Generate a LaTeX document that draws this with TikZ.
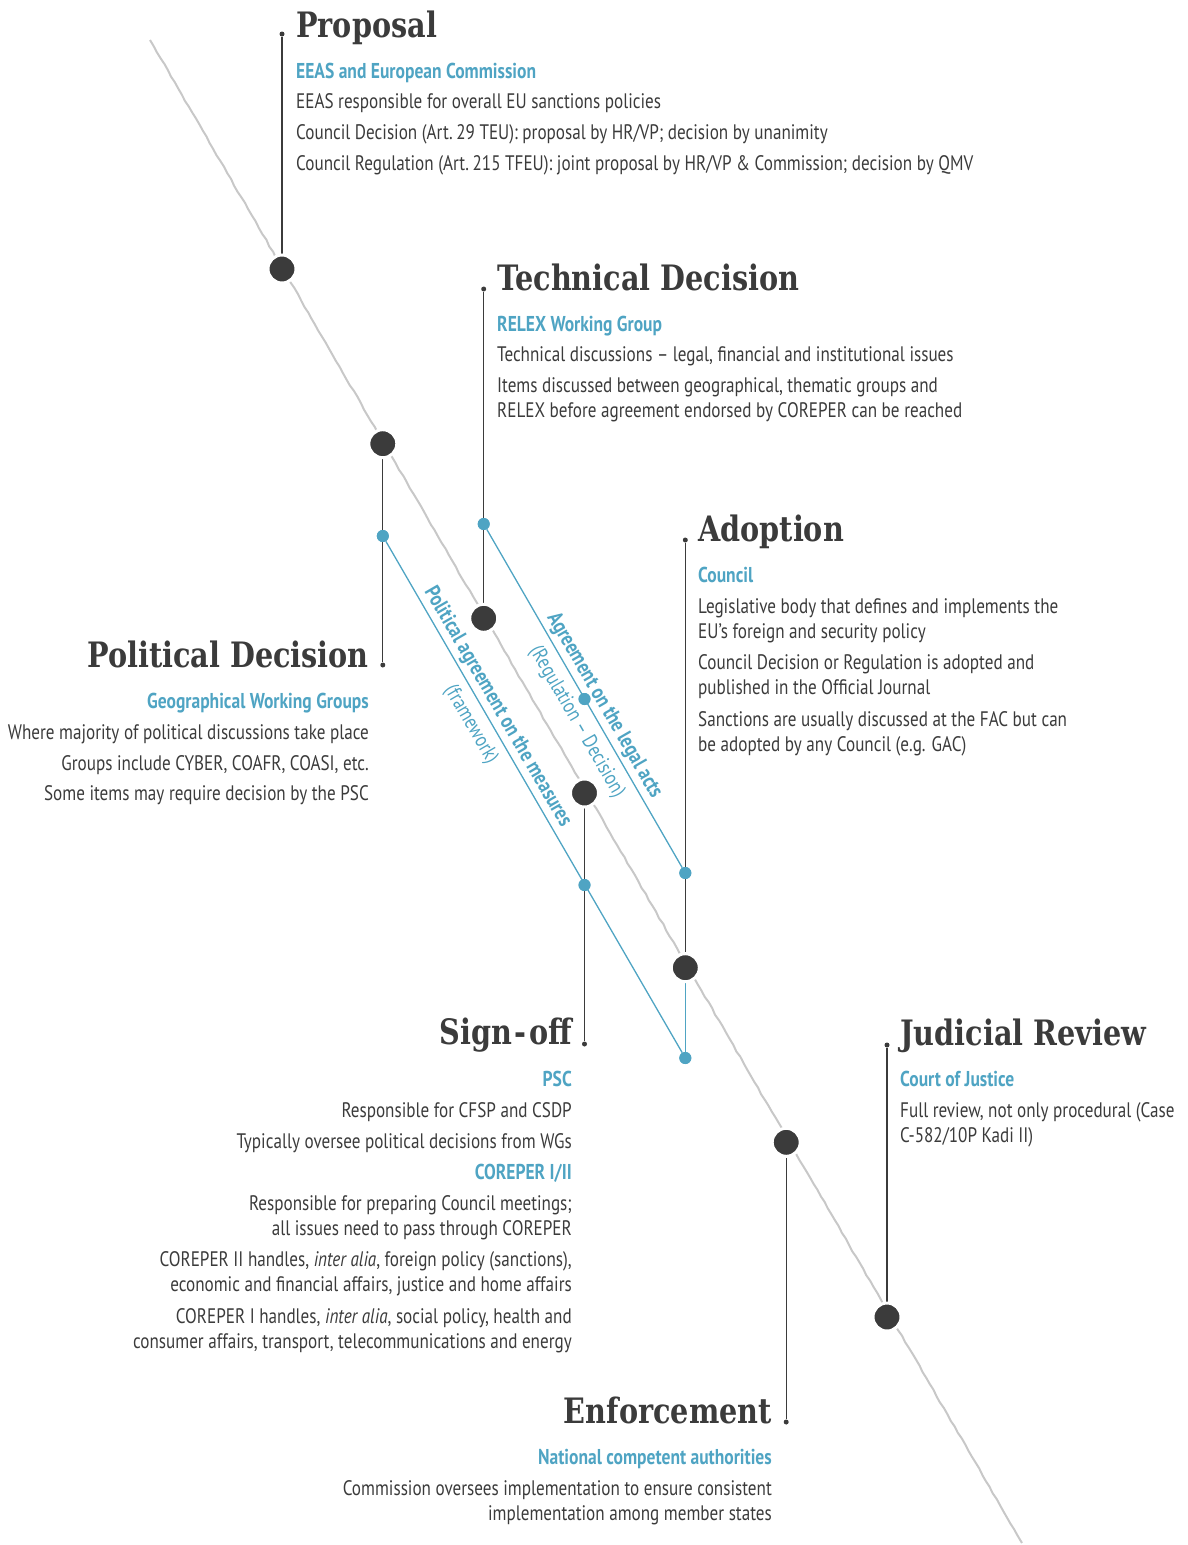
\documentclass[tikz,border=0pt]{standalone}
\usepackage{fontspec}
\setmainfont{PT Sans}[FakeStretch=0.815]
\newfontfamily\titlefont{DejaVu Serif}[FakeStretch=0.82]
\usetikzlibrary{decorations.pathmorphing}
\definecolor{ink}{HTML}{3B3B3B}
\definecolor{sky}{HTML}{4FA4C3}
\definecolor{rail}{HTML}{C8C8C8}
\tikzset{
 ttl/.style={font=\titlefont\bfseries\fontsize{35}{35}\selectfont, text=ink, inner sep=0pt},
 sub/.style={font=\bfseries\fontsize{21.5}{21.5}\selectfont, text=sky, inner sep=0pt},
 body/.style={font=\fontsize{21}{21}\selectfont, text=ink, inner sep=0pt},
 bigdot/.style={circle, fill=ink, draw=white, line width=3pt, minimum size=28pt, inner sep=0pt},
 tipdot/.style={circle, fill=ink, minimum size=5pt, inner sep=0pt},
 bluedot/.style={circle, fill=sky, minimum size=12pt, inner sep=0pt},
 stem/.style={draw=ink, line width=1.3pt},
 bluelink/.style={draw=sky, line width=1.3pt},
 railline/.style={draw=rail, line width=2pt},
 rotbold/.style={font=\bfseries\fontsize{21.5}{21.5}\selectfont, text=sky, inner sep=3pt},
 rotlight/.style={font=\fontsize{21}{21}\selectfont, text=sky, inner sep=8pt},
}
\begin{document}
\begin{tikzpicture}[x=1pt,y=-1pt]
\pgfmathsetseed{7}
\useasboundingbox (0,0) rectangle (1187,1545);
% rail
\coordinate (railA) at (150,40);
\coordinate (railB) at (1022,1543);
\draw[railline, decorate, decoration={random steps, segment length=7pt, amplitude=0.5pt}] (railA) -- (railB);
% positions of main dots
\coordinate (c1) at (282,269);
\coordinate (c2) at (382.8,443.7);
\coordinate (c3) at (483.7,618.3);
\coordinate (c4) at (584.5,793);
\coordinate (c5) at (685.3,967.7);
\coordinate (c6) at (786.2,1142.3);
\coordinate (c7) at (887,1317);
% tip dots
\node[tipdot] (t1) at (282,34) {};
\node[tipdot] (t2) at (382.8,665) {};
\node[tipdot] (t3) at (483.7,289) {};
\node[tipdot] (t4) at (584.5,1044) {};
\node[tipdot] (t5) at (685.3,540) {};
\node[tipdot] (t6) at (786.2,1422) {};
\node[tipdot] (t7) at (887,1045) {};
% blue dots
\node[bluedot] (bp1) at (382.8,536) {};
\node[bluedot] (bp2) at (584.5,885) {};
\node[bluedot] (bp3) at (685.3,1058) {};
\node[bluedot] (bl1) at (483.7,524) {};
\node[bluedot] (bl2) at (584.5,699) {};
\node[bluedot] (bl3) at (685.3,873) {};
% stems
\draw[stem] (t1) -- (c1);
\draw[stem] (c2) -- (t2);
\draw[stem] (t3) -- (c3);
\draw[stem] (c4) -- (t4);
\draw[stem] (t5) -- (c5);
\draw[stem] (c6) -- (t6);
\draw[stem] (t7) -- (c7);
\draw[bluelink] (c5) -- (bp3);
% blue links with labels
\draw[bluelink] (bp1) -- (bp3)
  node[pos=0.337, sloped, above, rotbold] (lblPol) {Political agreement on the measures}
  node[pos=0.34, sloped, below, rotlight] (lblFrm) {(framework)};
\draw[bluelink] (bl1) -- (bl3)
  node[pos=0.541, sloped, above, rotbold] (lblLeg) {Agreement on the legal acts}
  node[pos=0.542, sloped, below, rotlight] (lblReg) {(Regulation -- Decision)};
% redraw blue dots on top
\foreach \n in {bp1,bp2,bp3,bl1,bl2,bl3} \fill[sky] (\n) circle (6pt);
% main dots
\node[bigdot] (d1) at (c1) {};
\node[bigdot] (d2) at (c2) {};
\node[bigdot] (d3) at (c3) {};
\node[bigdot] (d4) at (c4) {};
\node[bigdot] (d5) at (c5) {};
\node[bigdot] (d6) at (c6) {};
\node[bigdot] (d7) at (c7) {};
% Proposal
\node[ttl, anchor=base west] (prT) at (296,37) {Proposal};
\node[sub, anchor=base west] (prS) at (296,78) {EEAS and European Commission};
\node[body, anchor=base west] (prA) at (296,108) {EEAS responsible for overall EU sanctions policies};
\node[body, anchor=base west] (prB) at (296,139) {Council Decision (Art.\,29 TEU): proposal by HR/VP; decision by unanimity};
\node[body, anchor=base west] (prC) at (296,170) {Council Regulation (Art.\,215 TFEU): joint proposal by HR/VP \& Commission; decision by QMV};
% Technical Decision
\node[ttl, anchor=base west] (teT) at (497,290) {Technical Decision};
\node[sub, anchor=base west] (teS) at (497,331) {RELEX Working Group};
\node[body, anchor=base west] (teA) at (497,361) {Technical discussions -- legal, financial and institutional issues};
\node[body, anchor=base west] (teB) at (497,392) {Items discussed between geographical, thematic groups and};
\node[body, anchor=base west] (teC) at (497,417) {RELEX before agreement endorsed by COREPER can be reached};
% Adoption
\node[ttl, anchor=base west] (adT) at (698,541) {Adoption};
\node[sub, anchor=base west] (adS) at (698,582) {Council};
\node[body, anchor=base west] (adA) at (698,613) {Legislative body that defines and implements the};
\node[body, anchor=base west] (adB) at (698,638) {EU’s foreign and security policy};
\node[body, anchor=base west] (adC) at (698,669) {Council Decision or Regulation is adopted and};
\node[body, anchor=base west] (adD) at (698,694) {published in the Official Journal};
\node[body, anchor=base west] (adE) at (698,726) {Sanctions are usually discussed at the FAC but can};
\node[body, anchor=base west] (adF) at (698,751) {be adopted by any Council (e.g. GAC)};
% Political Decision
\node[ttl, anchor=base east] (poT) at (369,667) {Political Decision};
\node[sub, anchor=base east] (poS) at (369,708) {Geographical Working Groups};
\node[body, anchor=base east] (poA) at (369,739) {Where majority of political discussions take place};
\node[body, anchor=base east] (poB) at (369,770) {Groups include CYBER, COAFR, COASI, etc.};
\node[body, anchor=base east] (poC) at (369,800) {Some items may require decision by the PSC};
% Sign-off
\node[ttl, anchor=base east] (siT) at (572,1044) {Sign\kern2.5pt-\kern2.5pt off};
\node[sub, anchor=base east] (siS) at (572,1086) {PSC};
\node[body, anchor=base east] (siA) at (572,1117) {Responsible for CFSP and CSDP};
\node[body, anchor=base east] (siB) at (572,1148) {Typically oversee political decisions from WGs};
\node[sub, anchor=base east] (siS2) at (572,1179) {COREPER I/II};
\node[body, anchor=base east] (siC) at (572,1210) {Responsible for preparing Council meetings;};
\node[body, anchor=base east] (siD) at (572,1235) {all issues need to pass through COREPER};
\node[body, anchor=base east] (siE) at (572,1266) {COREPER II handles, \textit{inter alia}, foreign policy (sanctions),};
\node[body, anchor=base east] (siF) at (572,1291) {economic and financial affairs, justice and home affairs};
\node[body, anchor=base east] (siG) at (572,1323) {COREPER I handles, \textit{inter alia}, social policy, health and};
\node[body, anchor=base east] (siH) at (572,1348) {consumer affairs, transport, telecommunications and energy};
% Judicial Review
\node[ttl, anchor=base west] (juT) at (900,1045) {Judicial Review};
\node[sub, anchor=base west] (juS) at (900,1086) {Court of Justice};
\node[body, anchor=base west] (juA) at (900,1117) {Full review, not only procedural (Case};
\node[body, anchor=base west] (juB) at (900,1142) {C-582/10P Kadi II)};
% Enforcement
\node[ttl, anchor=base east] (enT) at (772,1423) {Enforcement};
\node[sub, anchor=base east] (enS) at (772,1464) {National competent authorities};
\node[body, anchor=base east] (enA) at (772,1495) {Commission oversees implementation to ensure consistent};
\node[body, anchor=base east] (enB) at (772,1520) {implementation among member states};
\end{tikzpicture}
\end{document}
